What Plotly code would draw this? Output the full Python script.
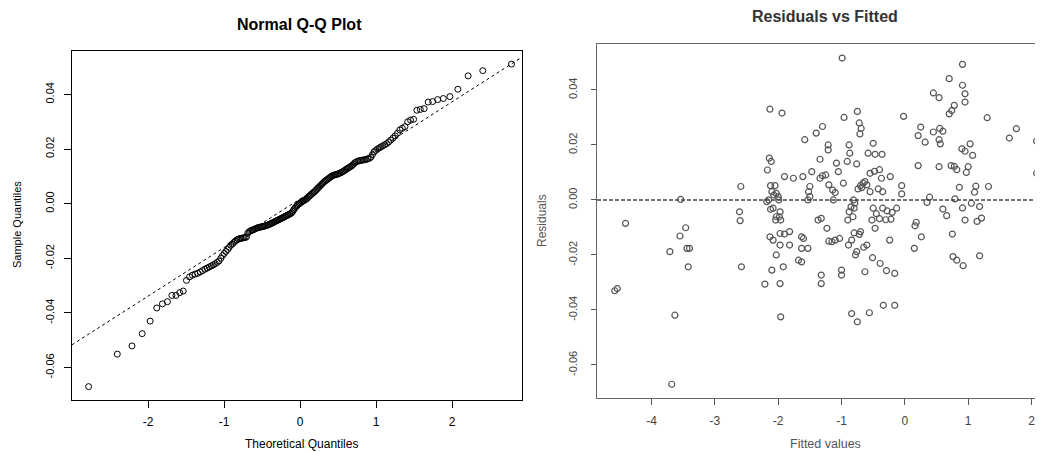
import math
from statistics import NormalDist
import plotly.graph_objects as go

# ---------------- data ----------------
# Sorted sample quantiles (residuals)
qq_sample = [
    -0.0670, -0.0551, -0.0521, -0.0476, -0.0430, -0.0382, -0.0367, -0.0359,
    -0.0336, -0.0336, -0.0326, -0.0320,
    -0.0281, -0.0268, -0.0262,
    -0.0258, -0.0255, -0.0250,
    -0.0245, -0.0240, -0.0236,
    -0.0232, -0.0228, -0.0224, -0.0220,
    -0.0215, -0.0210, -0.0200, -0.0190,
    -0.0182, -0.0175, -0.0168, -0.0160, -0.0152,
    -0.0148, -0.0142, -0.0137, -0.0133, -0.0130,
    -0.0128, -0.0127, -0.0126, -0.0125, -0.0124, -0.0122,
    -0.0108, -0.0103, -0.0100, -0.0098, -0.0096, -0.0094,
    -0.0092, -0.0090, -0.0088, -0.0087, -0.0086, -0.0085,
    -0.0084, -0.0083, -0.0082, -0.0080, -0.0079, -0.0078, -0.0076,
    -0.0074, -0.0072, -0.0070, -0.0068, -0.0066, -0.0064, -0.0062,
    -0.0060, -0.0058, -0.0056, -0.0054, -0.0052, -0.0050, -0.0048,
    -0.0046, -0.0044, -0.0042, -0.0040, -0.0038, -0.0036, -0.0033,
    -0.0028, -0.0022, -0.0016, -0.0012, -0.0008, -0.0004, -0.0001, 0.0002,
    0.0005, 0.0008, 0.0010, 0.0012, 0.0014, 0.0017, 0.0020,
    0.0024, 0.0028, 0.0031, 0.0034, 0.0038, 0.0041, 0.0044,
    0.0048, 0.0052, 0.0056, 0.0060, 0.0064, 0.0068, 0.0072,
    0.0076, 0.0080, 0.0083, 0.0086, 0.0089, 0.0092, 0.0095,
    0.0098, 0.0101, 0.0103, 0.0105, 0.0106, 0.0107, 0.0108,
    0.0110, 0.0112, 0.0114, 0.0116, 0.0119, 0.0122,
    0.0125, 0.0128, 0.0131, 0.0134, 0.0137, 0.0140,
    0.0145, 0.0150, 0.0153, 0.0155, 0.0157, 0.0158,
    0.0159, 0.0160, 0.0161, 0.0162, 0.0164,
    0.0166, 0.0170, 0.0180, 0.0190, 0.0195,
    0.0200, 0.0204, 0.0208, 0.0212,
    0.0216, 0.0220, 0.0226, 0.0233,
    0.0240, 0.0248, 0.0258,
    0.0270, 0.0276, 0.0282,
    0.0300, 0.0306,
    0.0309, 0.0342, 0.0345, 0.0348, 0.0372, 0.0374, 0.0381, 0.0385,
    0.0392, 0.0419, 0.0468, 0.0487, 0.0511,
]

# Residuals vs fitted values
fitted = [
    -4.58, -4.54, -4.41, -3.71, -3.68, -3.63, -3.54, -3.55, -3.46, -3.44, -3.40, -3.42,
    -2.59, -2.61, -2.60, -2.58,
    -2.21, -2.17, -2.14, -2.11, -2.13, -1.94, -2.18, -2.12, -2.05, -2.10, -2.07, -2.00,
    -1.99, -2.03, -2.15, -2.08, -2.12, -1.97, -2.03, -1.98, -2.04, -1.96, -1.90, -1.76,
    -2.13, -2.08, -1.97, -1.90, -1.82, -1.97, -1.82, -2.03, -2.10, -1.92, -1.97, -1.96,
    -1.61, -1.47, -1.58, -1.40, -1.30, -1.34, -1.50, -1.52, -1.50, -1.53, -1.34, -1.25,
    -1.30, -1.63, -1.63, -1.53, -1.68, -1.63, -1.37, -1.32, -1.32, -1.32, -1.60,
    -1.23, -1.21, -1.21, -1.08, -1.05, -1.20, -1.14, -1.10, -0.97, -1.13, -0.88, -0.87,
    -0.91, -0.76, -0.99, -0.96, -1.20, -1.15, -1.10, -1.03, -0.90, -0.88, -0.82, -0.80,
    -0.85, -0.89, -0.84, -0.80, -1.00, -1.00, -0.84, -0.75, -0.76, -0.78, -0.81, -0.79,
    -0.75, -0.72, -0.69, -0.71, -0.74, -0.70, -0.66, -0.63, -0.60, -0.68, -0.55, -0.48,
    -0.40, -0.58, -0.47, -0.36, -0.50, -0.63, -0.60, -0.65, -0.70, -0.72, -0.56, -0.51,
    -0.50, -0.45, -0.52, -0.35, -0.28, -0.20, -0.13, -0.40, -0.30, -0.22, -0.47, -0.24,
    -0.39, -0.29, -0.16, -0.34, -0.16, -0.37, -0.23, -0.42, -0.35, -0.55,
    -0.02, -0.05, -0.05, 0.15, 0.16, 0.18, 0.26, 0.21, 0.21, 0.25, 0.32, 0.35,
    0.39, 0.45, 0.54, 0.45, 0.55, 0.60, 0.54, 0.56, 0.54, 0.60, 0.66, 0.70,
    0.70, 0.74, 0.78, 0.73, 0.78, 0.82, 0.75, 0.76, 0.82, 0.92, 0.79, 0.86,
    0.91, 0.91, 0.95, 0.95, 0.90, 0.95, 0.97, 0.91, 0.95, 1.03, 1.07, 1.00,
    1.05, 1.10, 1.12, 1.18, 1.14, 1.21, 1.18, 1.30, 1.32, 1.65, 1.76, 2.08, 2.08,
]
residuals = [
    -0.0330, -0.0322, -0.0085, -0.0188, -0.0670, -0.0419, 0.0002, -0.0131, -0.0101, -0.0176, -0.0176, -0.0243,
    0.0049, -0.0043, -0.0075, -0.0243,
    -0.0306, 0.0109, 0.0152, 0.0140, 0.0330, 0.0316, -0.0006, 0.0052, 0.0052, 0.0030, 0.0018, 0.0012,
    0.0000, 0.0024, 0.0000, -0.0030, -0.0034, -0.0043, -0.0061, -0.0061, -0.0073, -0.0073, 0.0085, 0.0079,
    -0.0134, -0.0146, -0.0122, -0.0124, -0.0115, -0.0164, -0.0164, -0.0200, -0.0255, -0.0243, -0.0304, -0.0425,
    0.0085, 0.0103, 0.0219, 0.0243, 0.0267, 0.0148, 0.0049, 0.0030, 0.0012, 0.0000, 0.0079, 0.0091,
    0.0088, -0.0134, -0.0176, -0.0176, -0.0219, -0.0225, -0.0073, -0.0067, -0.0273, -0.0304, -0.0140,
    -0.0103, 0.0200, 0.0182, 0.0134, 0.0103, 0.0055, 0.0036, 0.0027, 0.0061, 0.0000, 0.0200, 0.0170,
    0.0140, 0.0131, 0.0516, 0.0300, -0.0150, -0.0152, -0.0146, -0.0140, -0.0073, -0.0043, -0.0061, -0.0030,
    -0.0025, -0.0164, -0.0146, -0.0120, -0.0255, -0.0273, -0.0413, -0.0443, -0.0188, -0.0200, 0.0000, -0.0012,
    0.0322, 0.0280, 0.0260, 0.0240, 0.0040, 0.0052, 0.0061, 0.0067, 0.0055, 0.0045, 0.0097, 0.0104,
    0.0110, 0.0170, 0.0166, 0.0166, 0.0206, -0.0261, -0.0164, -0.0172, -0.0115, -0.0125, -0.0410, -0.0210,
    -0.0030, -0.0050, -0.0073, -0.0030, -0.0040, -0.0045, -0.0030, -0.0068, -0.0072, -0.0070, -0.0103, -0.0146,
    -0.0231, -0.0257, -0.0267, -0.0383, -0.0383, 0.0079, 0.0085, 0.0040, 0.0030, 0.0030,
    0.0304, 0.0052, 0.0022, -0.0176, -0.0094, -0.0081, -0.0134, 0.0125, 0.0234, 0.0265, 0.0210, -0.0009,
    0.0010, 0.0389, 0.0372, 0.0247, 0.0260, 0.0250, 0.0219, 0.0204, 0.0121, -0.0033, -0.0057, 0.0441,
    0.0313, 0.0325, 0.0344, 0.0125, 0.0122, 0.0110, -0.0124, -0.0206, -0.0219, -0.0239, 0.0004, 0.0046,
    0.0493, 0.0417, 0.0386, 0.0356, 0.0186, 0.0177, 0.0100, -0.0029, -0.0073, 0.0204, 0.0162, 0.0121,
    -0.0012, 0.0028, 0.0050, -0.0024, -0.0078, -0.0066, -0.0203, 0.0299, 0.0049, 0.0225, 0.0259, 0.0214, 0.0097,
]

y_ticks = [-0.06, -0.04, -0.02, 0.00, 0.02, 0.04]
y_tick_labels = ["-0.06", "-0.04", "-0.02", "0.00", "0.02", "0.04"]
qq_x_ticks = [-2, -1, 0, 1, 2]
qq_x_tick_labels = ["-2", "-1", "0", "1", "2"]
rf_x_ticks = [-4, -3, -2, -1, 0, 1, 2]
rf_x_tick_labels = ["-4", "-3", "-2", "-1", "0", "1", "2"]

# ---------------- Q-Q computations (as R's qqnorm / qqline) ----------------
n = len(qq_sample)
a = 3 / 8 if n <= 10 else 0.5
nd = NormalDist()
theoretical = [nd.inv_cdf((i + 1 - a) / (n + 1 - 2 * a)) for i in range(n)]


def quantile7(vals, p):
    v = sorted(vals)
    h = (len(v) - 1) * p
    lo = math.floor(h)
    hi = min(lo + 1, len(v) - 1)
    return v[lo] + (h - lo) * (v[hi] - v[lo])


qy1, qy2 = quantile7(qq_sample, 0.25), quantile7(qq_sample, 0.75)
qx1, qx2 = nd.inv_cdf(0.25), nd.inv_cdf(0.75)
slope = (qy2 - qy1) / (qx2 - qx1)
intercept = qy1 - slope * qx1

W, H = 1043, 452
OFF = 8  # page body margin offset
QQ_XR = [-3.0, 2.92]
QQ_YR = [-0.0719, 0.0559]
RF_XR = [-4.86, 2.307]
RF_YR = [-0.0720, 0.0567]


def px(x):
    return (x - OFF) / W


def py(y):
    return 1 - (y - OFF) / H


FONT = "Liberation Sans, Arial, Helvetica, sans-serif"

fig = go.Figure()

fig.add_trace(go.Scatter(
    x=[QQ_XR[0] - 0.2, QQ_XR[1] + 0.2],
    y=[intercept + slope * (QQ_XR[0] - 0.2), intercept + slope * (QQ_XR[1] + 0.2)],
    mode="lines", line=dict(color="black", width=1, dash="3px,3px"),
    xaxis="x", yaxis="y", hoverinfo="skip", showlegend=False,
))
fig.add_trace(go.Scatter(
    x=theoretical, y=qq_sample, mode="markers",
    marker=dict(symbol="circle-open", size=6, color="black", line=dict(width=1)),
    xaxis="x", yaxis="y", showlegend=False,
))
fig.add_trace(go.Scatter(
    x=fitted, y=residuals, mode="markers",
    marker=dict(symbol="circle-open", size=6, color="#555555", line=dict(width=1.2)),
    xaxis="x2", yaxis="y2", showlegend=False,
))

axis_common = dict(showgrid=False, zeroline=False, ticks="outside", showline=True,
                   fixedrange=True)

fig.update_layout(
    template="none",
    width=W, height=H, autosize=False,
    margin=dict(l=0, r=0, t=0, b=0),
    paper_bgcolor="white", plot_bgcolor="white",
    font=dict(family=FONT, size=12, color="black"),
    xaxis=dict(domain=[px(72), px(522)], range=QQ_XR, tickvals=qq_x_ticks,
               ticktext=qq_x_tick_labels, ticklabelstandoff=4,
               ticklen=7, linecolor="black", linewidth=1, mirror=True,
               tickcolor="black", tickfont=dict(size=12, color="black"),
               anchor="y", **axis_common),
    yaxis=dict(domain=[py(400), py(51)], range=QQ_YR, tickvals=y_ticks,
               ticktext=y_tick_labels, tickangle=-90, ticklen=7, ticklabelstandoff=6,
               linecolor="black", linewidth=1, mirror=True, tickcolor="black",
               tickfont=dict(size=11, color="black"), anchor="x", **axis_common),
    xaxis2=dict(domain=[px(597), 1.0], range=RF_XR, tickvals=rf_x_ticks,
                ticktext=rf_x_tick_labels, ticklabelstandoff=5,
                ticklen=6, linecolor="#666666", linewidth=1.3, mirror=True,
                tickcolor="#555555", tickfont=dict(size=12, color="#444444"),
                anchor="y2", **axis_common),
    yaxis2=dict(domain=[py(398), py(44)], range=RF_YR, tickvals=y_ticks,
                ticktext=y_tick_labels, tickangle=-90, ticklen=5, ticklabelstandoff=9,
                linecolor="#666666", linewidth=1.3, mirror=False,
                tickcolor="#555555", tickfont=dict(size=11, color="#444444"),
                anchor="x2", **axis_common),
    shapes=[dict(type="line", xref="x2 domain", yref="y2", x0=0, x1=1, y0=0, y1=0,
                 line=dict(color="#444444", width=1.5, dash="4px,2px"))],
    annotations=[
        dict(text="<b>Normal Q-Q Plot</b>", x=px(299), y=py(24), xref="paper", yref="paper",
             showarrow=False, xanchor="center", yanchor="middle",
             font=dict(size=16, color="black")),
        dict(text="Sample Quantiles", x=px(17), y=py(225), xref="paper", yref="paper",
             showarrow=False, textangle=-90, xanchor="center", yanchor="middle",
             font=dict(size=11, color="black")),
        dict(text="Theoretical Quantiles", x=px(301), y=py(444), xref="paper", yref="paper",
             showarrow=False, xanchor="center", yanchor="middle",
             font=dict(size=12, color="black")),
        dict(text="<b>Residuals vs Fitted</b>", x=px(825), y=py(16), xref="paper", yref="paper",
             showarrow=False, xanchor="center", yanchor="middle",
             font=dict(size=16, color="#333333")),
        dict(text="Residuals", x=px(542), y=py(221), xref="paper", yref="paper",
             showarrow=False, textangle=-90, xanchor="center", yanchor="middle",
             font=dict(size=12, color="#555555")),
        dict(text="Fitted values", x=px(825), y=py(444), xref="paper", yref="paper",
             showarrow=False, xanchor="center", yanchor="middle",
             font=dict(size=12.5, color="#555555")),
    ],
)

fig.write_html("out.html")
